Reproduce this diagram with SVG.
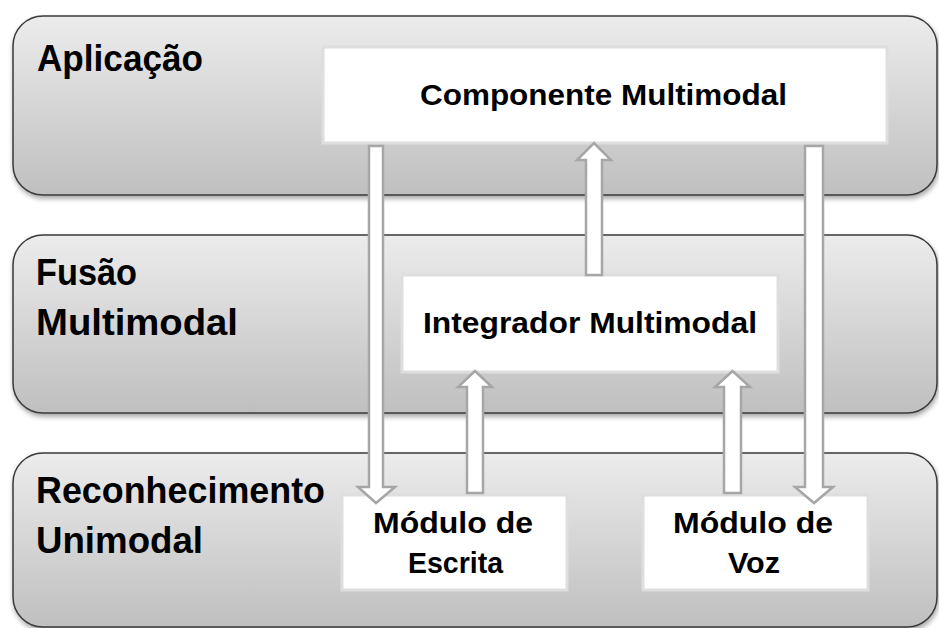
<svg xmlns="http://www.w3.org/2000/svg" width="939" height="628" viewBox="0 0 939 628">
<defs>
<linearGradient id="lg" x1="0" y1="0" x2="0" y2="1">
<stop offset="0" stop-color="#ececec"/>
<stop offset="1" stop-color="#bfbfbf"/>
</linearGradient>
<filter id="sh" x="-5%" y="-10%" width="110%" height="125%">
<feDropShadow dx="1" dy="3" stdDeviation="2.5" flood-color="#000" flood-opacity="0.35"/>
</filter>
</defs>
<style>
.layer{fill:url(#lg);stroke:#3a3a3a;stroke-width:1.5;filter:url(#sh)}
.box{fill:#fff;stroke:#dedede;stroke-width:3}
.lbl{font-family:"Liberation Sans",Arial,sans-serif;font-weight:bold;font-size:36px;fill:#000}
.txt{font-family:"Liberation Sans",Arial,sans-serif;font-weight:bold;font-size:29px;fill:#000}
.arr{fill:#fff;stroke:#a6a6a6;stroke-width:2.5;stroke-linejoin:miter}
</style>
<rect fill="#fff" x="0" y="0" width="939" height="628"/>
<g id="layer-aplicacao">
<rect class="layer" x="13" y="16" width="924" height="179" rx="30" ry="30"/>
<text class="lbl" x="37" y="71" textLength="166" lengthAdjust="spacingAndGlyphs">Aplicação</text>
</g>
<g id="layer-fusao">
<rect class="layer" x="13" y="235" width="924" height="178" rx="30" ry="30"/>
<text class="lbl" x="36" y="285" textLength="101" lengthAdjust="spacingAndGlyphs">Fusão</text>
<text class="lbl" x="36" y="335" textLength="202" lengthAdjust="spacingAndGlyphs">Multimodal</text>
</g>
<g id="layer-reconhecimento">
<rect class="layer" x="13" y="453" width="924" height="174" rx="30" ry="30"/>
<text class="lbl" x="36" y="503" textLength="289" lengthAdjust="spacingAndGlyphs">Reconhecimento</text>
<text class="lbl" x="36" y="553" textLength="167" lengthAdjust="spacingAndGlyphs">Unimodal</text>
</g>
<g id="componente">
<rect class="box" x="323" y="47" width="564" height="96"/>
<text class="txt" x="420" y="105" textLength="367" lengthAdjust="spacingAndGlyphs">Componente Multimodal</text>
</g>
<g id="integrador">
<rect class="box" x="402" y="275" width="376" height="97"/>
<text class="txt" x="423" y="333" textLength="334" lengthAdjust="spacingAndGlyphs">Integrador Multimodal</text>
</g>
<g id="escrita">
<rect class="box" x="342" y="495" width="225" height="95"/>
<text class="txt" x="373" y="533" textLength="160" lengthAdjust="spacingAndGlyphs">Módulo de</text>
<text class="txt" x="408" y="573" textLength="95" lengthAdjust="spacingAndGlyphs">Escrita</text>
</g>
<g id="voz">
<rect class="box" x="643" y="495" width="225" height="95"/>
<text class="txt" x="673" y="533" textLength="160" lengthAdjust="spacingAndGlyphs">Módulo de</text>
<text class="txt" x="728" y="573" textLength="52" lengthAdjust="spacingAndGlyphs">Voz</text>
</g>
<g id="connectors">
<path class="arr" d="M369,146 H383 V487 H395 L376,503 L358,487 H369 Z"/>
<path class="arr" d="M586,275 V160 H577 L594,143 L611,160 H602 V275 Z"/>
<path class="arr" d="M467,493 V387 H458 L475,371 L492,387 H483 V493 Z"/>
<path class="arr" d="M724,493 V387 H715 L732.5,371 L750,387 H741 V493 Z"/>
<path class="arr" d="M805,146 H823 V487 H833 L814,503 L795,487 H805 Z"/>
</g>
</svg>
